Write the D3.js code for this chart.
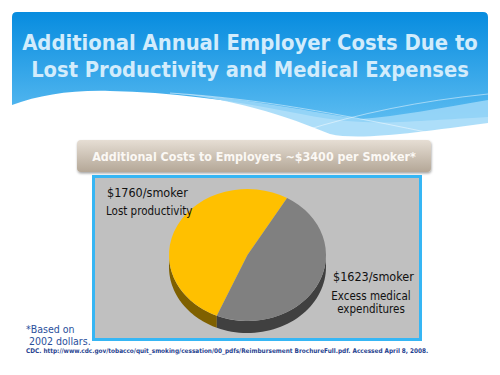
<!DOCTYPE html>
<html><head><meta charset="utf-8">
<script src="https://cdn.jsdelivr.net/npm/d3@7"></script>
<style>html,body{margin:0;padding:0;background:#fff;}svg{display:block;}</style>
</head><body>
<script>
const categories = ["Lost productivity", "Excess medical expenditures"];
const values = [1760, 1623];
const valueLabels = ["$1760/smoker", "$1623/smoker"];
const titleLines = ["Additional Annual Employer Costs Due to", "Lost Productivity and Medical Expenses"];
const subtitle = "Additional Costs to Employers ~$3400 per Smoker*";
const footnoteLines = ["*Based on", " 2002 dollars."];
const citation = "CDC. http://www.cdc.gov/tobacco/quit_smoking/cessation/00_pdfs/Reimbursement BrochureFull.pdf. Accessed April 8, 2008.";
const colors = ["#ffc000", "#808080"];
const sideColors = ["#7f6000", "#404040"];

const W = 500, H = 375;
const svg = d3.select("body").append("svg").attr("width", W).attr("height", H);
const defs = svg.append("defs");
const g1 = defs.append("linearGradient").attr("id","bannerGrad").attr("x1",0).attr("y1",0).attr("x2",0).attr("y2",1);
g1.append("stop").attr("offset","0%").attr("stop-color","#078cdf");
g1.append("stop").attr("offset","100%").attr("stop-color","#5cbcf1");
const g2 = defs.append("linearGradient").attr("id","barGrad").attr("x1",0).attr("y1",0).attr("x2",0).attr("y2",1);
g2.append("stop").attr("offset","0%").attr("stop-color","#e6ded4");
g2.append("stop").attr("offset","100%").attr("stop-color","#b4a797");
const f = defs.append("filter").attr("id","shadow").attr("x","-10%").attr("y","-20%").attr("width","120%").attr("height","150%");
f.append("feDropShadow").attr("dx",0.5).attr("dy",1.5).attr("stdDeviation",1.2).attr("flood-color","#000").attr("flood-opacity",0.35);

// fit a text's font size so its width equals target (never above maxSize)
function fit(sel, target, maxSize) {
  sel.each(function(){
    const t = d3.select(this);
    t.style("font-size", maxSize + "px");
    const w = this.getComputedTextLength();
    if (w > target) t.style("font-size", (maxSize * target / w) + "px");
  });
}

// Banner
svg.append("path")
  .attr("d","M12,105 V17 Q12,12 17,12 H483 Q488,12 488,17 V117 C470,118 440,120 400,122 C360,124 330,120 290,112 C230,100 170,92 110,91 C70,90 40,95 12,105 Z")
  .attr("fill","url(#bannerGrad)");
svg.append("path")
  .attr("d","M150,92 C230,95 290,118 330,134 C360,141 420,132 488,123 V100 C440,108 400,116 360,119 C300,110 230,95 150,92 Z")
  .attr("fill","#9fd8f8").attr("opacity",0.85);
svg.append("path").attr("d","M170,93 C260,99 330,112 450,137").attr("fill","none").attr("stroke","#fff").attr("stroke-opacity",0.6).attr("stroke-width",0.8);
svg.append("path").attr("d","M300,132 C360,113 420,101 488,94").attr("fill","none").attr("stroke","#fff").attr("stroke-opacity",0.6).attr("stroke-width",0.8);

const titles = svg.selectAll("text.title").data(titleLines).enter().append("text")
  .attr("class","title")
  .attr("x",250).attr("y",(d,i)=>50+i*27)
  .attr("text-anchor","middle")
  .style("font-family","'DejaVu Sans Condensed','DejaVu Sans', Verdana, sans-serif")
  .style("font-weight","bold")
  .attr("fill","#d2ecfc")
  .text(d=>d);
fit(titles.filter((d,i)=>i===0), 456, 24);
fit(titles.filter((d,i)=>i===1), 438, 24);

// Subtitle bar
svg.append("rect").attr("x",77).attr("y",140).attr("width",354).attr("height",32).attr("rx",4)
  .attr("fill","url(#barGrad)").attr("filter","url(#shadow)");
const sub = svg.append("text").attr("x",254).attr("y",161).attr("text-anchor","middle")
  .style("font-family","'DejaVu Sans Condensed','DejaVu Sans', Verdana, sans-serif").style("font-weight","bold")
  .attr("fill","#fbf8f4").text(subtitle);
fit(sub, 324, 13);

// Chart box
svg.append("rect").attr("x",93.5).attr("y",176.5).attr("width",327).attr("height",163)
  .attr("fill","#c0c0c0").attr("stroke","#36b6f4").attr("stroke-width",3);

// 3D pie
const cx = 247.5, cy = 255, rx = 78.5, ry = 66, depth = 12;
const pie = d3.pie().sort(null).value(d=>d)
  .startAngle(-157*Math.PI/180).endAngle(203*Math.PI/180);
const arcs = pie(values);
const pt = (a, dy=0) => [cx + rx*Math.sin(a), cy - ry*Math.cos(a) + dy];

const wallG = svg.append("g");
arcs.forEach((d,i)=>{
  const s = d.startAngle, e = d.endAngle;
  const segs = [];
  for (const off of [-2*Math.PI, 0, 2*Math.PI]) {
    const a0 = Math.max(s+off, Math.PI/2), a1 = Math.min(e+off, 3*Math.PI/2);
    if (a1 > a0) segs.push([a0,a1]);
  }
  segs.forEach(([a0,a1])=>{
    const p = d3.path();
    const n = 40;
    for (let k=0;k<=n;k++){ const a=a0+(a1-a0)*k/n; const q=pt(a); k===0?p.moveTo(q[0],q[1]):p.lineTo(q[0],q[1]); }
    for (let k=n;k>=0;k--){ const a=a0+(a1-a0)*k/n; const q=pt(a,depth); p.lineTo(q[0],q[1]); }
    p.closePath();
    wallG.append("path").attr("d",p.toString()).attr("fill",sideColors[i]);
  });
});

const arc = d3.arc().innerRadius(0).outerRadius(rx);
svg.append("g").attr("transform",`translate(${cx},${cy}) scale(1,${ry/rx})`)
  .selectAll("path").data(arcs).enter().append("path")
  .attr("d",arc).attr("fill",(d,i)=>colors[i]);

// labels
const lf = "'DejaVu Sans Condensed','DejaVu Sans', Tahoma, sans-serif";
svg.append("text").attr("x",107).attr("y",197).style("font-family",lf).style("font-size","12.5px").attr("fill","#111").text(valueLabels[0]);
svg.append("text").attr("x",106).attr("y",215).style("font-family",lf).style("font-size","11.5px").attr("fill","#111").text(categories[0]);
svg.append("text").attr("x",333).attr("y",281).style("font-family",lf).style("font-size","12.5px").attr("fill","#111").text(valueLabels[1]);
const cat2 = categories[1].split(" ");
svg.append("text").attr("x",371).attr("y",300).attr("text-anchor","middle").style("font-family",lf).style("font-size","11.5px").attr("fill","#111").text(cat2.slice(0,2).join(" "));
svg.append("text").attr("x",371).attr("y",313).attr("text-anchor","middle").style("font-family",lf).style("font-size","11.5px").attr("fill","#111").text(cat2.slice(2).join(" "));

// footnotes
svg.selectAll("text.fn").data(footnoteLines).enter().append("text").attr("class","fn")
  .attr("x",26).attr("y",(d,i)=>333+i*12).attr("xml:space","preserve")
  .style("font-family",lf).style("font-size","10.5px").attr("fill","#2a4f9c").text(d=>d);
const cit = svg.append("text").attr("x",26).attr("y",353)
  .style("font-family","'DejaVu Sans Condensed','DejaVu Sans', Verdana, sans-serif").style("font-weight","bold")
  .attr("fill","#1f3f8f").text(citation);
fit(cit, 403, 8);
</script>
</body></html>
